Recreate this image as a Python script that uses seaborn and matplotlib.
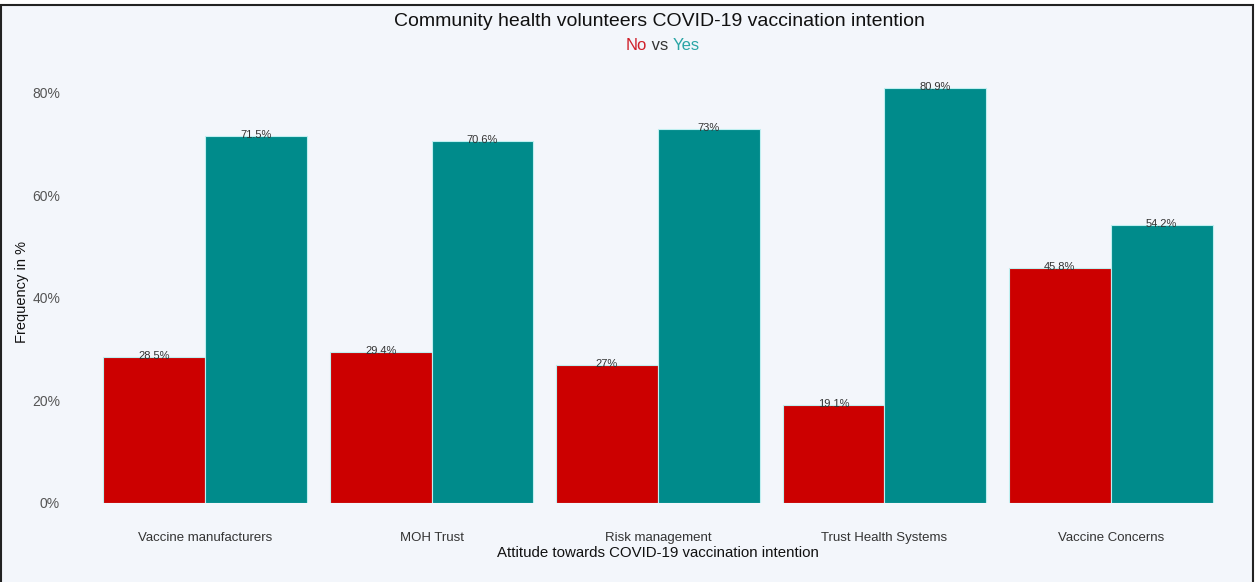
import pandas as pd
import matplotlib.pyplot as plt
import seaborn as sns
from matplotlib.patches import Rectangle

# --- chart data ---
categories = ['Vaccine manufacturers', 'MOH Trust', 'Risk management',
              'Trust Health Systems', 'Vaccine Concerns']
no_values = [28.5, 29.4, 27.0, 19.1, 45.8]
yes_values = [71.5, 70.6, 73.0, 80.9, 54.2]
y_ticks = [0, 20, 40, 60, 80]

BG = '#f3f6fb'
RED = '#cc0000'
TEAL = '#008b8b'

df = pd.DataFrame({
    'Attitude': categories * 2,
    'Response': ['No'] * len(categories) + ['Yes'] * len(categories),
    'Frequency': no_values + yes_values,
})

sns.set_style('white')
plt.rcParams['font.family'] = ['Liberation Sans', 'DejaVu Sans']

fig = plt.figure(figsize=(12.59, 5.82), dpi=100, facecolor='white')
# framed panel like the screenshot
fig.patches.append(Rectangle((1 / 1259, -0.05), 1252 / 1259, 1.05 - 5 / 582,
                             transform=fig.transFigure, facecolor=BG,
                             edgecolor='#222222', linewidth=1.5, zorder=-10))

ax = fig.add_axes([92 / 1259, 1 - 503 / 582, 1132 / 1259, 437 / 582])
ax.set_facecolor(BG)

sns.barplot(data=df, x='Attitude', y='Frequency', hue='Response',
            palette={'No': RED, 'Yes': TEAL}, width=0.9, gap=0,
            edgecolor='#bfeff0', linewidth=0.8, saturation=1,
            legend=False, ax=ax)

# value labels on top of each bar
for container in ax.containers:
    ax.bar_label(container, labels=[f'{v:g}%' for v in container.datavalues],
                 padding=-3, fontsize=8, color='#333333')

ax.set_ylim(0, 85.2)
ax.set_xlim(-0.5, len(categories) - 0.5)
ax.set_yticks(y_ticks)
ax.set_yticklabels([f'{t}%' for t in y_ticks], fontsize=10, color='#555555')
ax.tick_params(axis='x', labelsize=9.5, length=0, pad=21)
ax.tick_params(axis='y', length=0, pad=23)
for lbl in ax.get_xticklabels():
    lbl.set_color('#333333')
ax.set_xlabel('Attitude towards COVID-19 vaccination intention',
              fontsize=10.8, color='#111111', labelpad=1)
ax.set_ylabel('Frequency in %', fontsize=10.5, color='#111111')
ax.yaxis.set_label_coords(-0.0557, 0.483)
sns.despine(ax=ax, left=True, bottom=True)
ax.grid(False)

# title and coloured subtitle
fig.text(0.524, 1 - 21 / 582, 'Community health volunteers COVID-19 vaccination intention',
         ha='center', va='center', fontsize=14, color='#111111')
t_vs = fig.text(0.524, 1 - 46 / 582, ' vs ', ha='center', va='center',
                fontsize=12, color='#333333')
ax.annotate('No', xy=(0, 0), xycoords=t_vs, ha='right', va='bottom',
            fontsize=12, color='#d0202a')
ax.annotate('Yes', xy=(1, 0), xycoords=t_vs, ha='left', va='bottom',
            fontsize=12, color='#2aa5a5')

fig.savefig('out.png', dpi=100, facecolor=fig.get_facecolor())
